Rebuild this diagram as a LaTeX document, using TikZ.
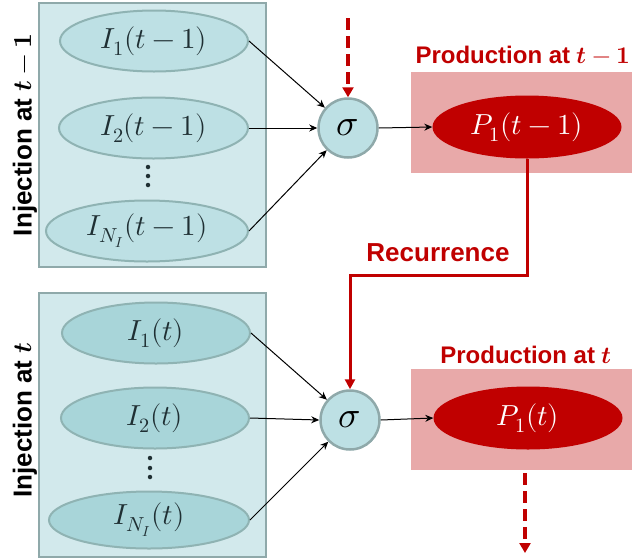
\documentclass[tikz,border=0pt]{standalone}
\usepackage{fontspec}
\usepackage{unicode-math}
\setsansfont{Liberation Sans}
\setmathfont{Latin Modern Math}
\usetikzlibrary{shapes.geometric,arrows.meta,calc}
\definecolor{boxfill}{HTML}{D2E9EC}
\definecolor{boxline}{HTML}{8FA9AA}
\definecolor{ellA}{HTML}{BDE0E4}
\definecolor{ellB}{HTML}{A8D5D9}
\definecolor{ellline}{HTML}{8FB3B3}
\definecolor{prodred}{HTML}{C00000}
\definecolor{prodpink}{HTML}{E8A9A9}
\definecolor{mathink}{HTML}{1F2F33}
\tikzset{
  group/.style={draw=boxline, fill=boxfill, line width=2.5pt},
  inp/.style={ellipse, draw=ellline, line width=2pt, inner sep=0pt,
    minimum height=61pt, text=mathink, font=\fontsize{29}{31}\selectfont},
  sig/.style={circle, draw=boxline, fill=ellA, line width=2.5pt, inner sep=0pt,
    minimum size=59pt, font=\fontsize{37}{39}\selectfont},
  prodbox/.style={fill=prodpink, draw=none},
  prod/.style={ellipse, fill=prodred, text=white, inner sep=0pt,
    minimum width=189pt, minimum height=63pt, font=\fontsize{29}{31}\selectfont},
  feed/.style={-{Stealth[length=8pt,width=7pt]}, line width=1pt},
  recur/.style={draw=prodred, line width=3pt, -{Triangle[length=10pt,width=10pt]}},
  hidden/.style={draw=prodred, line width=3.5pt, dash pattern=on 12pt off 6pt,
    -{Triangle[length=10pt,width=11pt]}},
  sidelabel/.style={rotate=90, font=\fontsize{26}{28}\selectfont\sffamily\bfseries},
  prodlabel/.style={text=prodred, font=\fontsize{24}{26}\selectfont\sffamily\bfseries},
  dot/.style={circle, fill=mathink, inner sep=0pt, minimum size=4.5pt}
}
\newcommand{\bt}{\symbfit{t}}
\newcommand{\bone}{\symbf{1}}
\begin{document}
\begin{tikzpicture}[x=1pt,y=-1pt]
\useasboundingbox (0,0) rectangle (632,558);

% injection groups
\node[group, minimum width=227pt, minimum height=264pt] (g1) at (152.5,135) {};
\node[group, minimum width=227pt, minimum height=264pt] (g2) at (152.5,425) {};
\node[sidelabel] (lab1) at (25,135) {Injection at $\bt-\bone$};
\node[sidelabel] (lab2) at (25,420) {Injection at $\bt$};

% inputs at t-1
\node[inp, fill=ellA, minimum width=188pt] (a1) at (154,41) {$I_1(t-1)$};
\node[inp, fill=ellA, minimum width=189pt] (a2) at (153.5,128) {$I_2(t-1)$};
\node[inp, fill=ellA, minimum width=202pt] (an) at (147,231) {$I_{N_I}(t-1)$};
\node[dot] (ad1) at (148,167) {};
\node[dot] (ad2) at (148,176) {};
\node[dot] (ad3) at (148,185) {};

% inputs at t
\node[inp, fill=ellB, minimum width=188pt] (b1) at (156,333) {$I_1(t)$};
\node[inp, fill=ellB, minimum width=188pt] (b2) at (155,418) {$I_2(t)$};
\node[inp, fill=ellB, minimum width=200pt, minimum height=57pt] (bn) at (149,520) {$I_{N_I}(t)$};
\node[dot] (bd1) at (150,458) {};
\node[dot] (bd2) at (150,468) {};
\node[dot] (bd3) at (150,477) {};

% activation nodes
\node[sig] (s1) at (348,128) {$\sigma$};
\node[sig] (s2) at (350,420) {$\sigma$};

% production
\node[prodbox, minimum width=222pt, minimum height=101pt, anchor=north west] (pb1) at (411,72) {};
\node[prodbox, minimum width=222pt, minimum height=101pt, anchor=north west] (pb2) at (411,369) {};
\node[prodlabel, anchor=west] (pl1) at (412,55) {Production at $\bt-\bone$};
\node[prodlabel] (pl2) at (526,355) {Production at $\bt$};
\node[prod] (p1) at (527,127) {$P_1(t-1)$};
\node[prod] (p2) at (528,418) {$P_1(t)$};

% connections
\draw[feed] (a1.east) -- (s1);
\draw[feed] (a2.east) -- (s1.west);
\draw[feed] (an.east) -- (s1);
\draw[feed] (b1.east) -- (s2);
\draw[feed] (b2.east) -- (s2.west);
\draw[feed] (bn.east) -- (s2);
\draw[feed] (s1.east) -- (p1.west);
\draw[feed] (s2.east) -- (p2.west);

% recurrence
\coordinate (rturn) at (527,275);
\draw[recur] (p1.south) -- (rturn) -| (s2.north);
\node[text=prodred, font=\fontsize{26}{28}\selectfont\sffamily\bfseries] (rlab) at (438,253) {Recurrence};

% links to previous and next steps
\coordinate (fromprev) at (348,18);
\draw[hidden] (fromprev) -- (s1.north);
\coordinate (tonext0) at (525,473);
\coordinate (tonext) at (525,553);
\draw[hidden] (tonext0) -- (tonext);
\end{tikzpicture}
\end{document}
